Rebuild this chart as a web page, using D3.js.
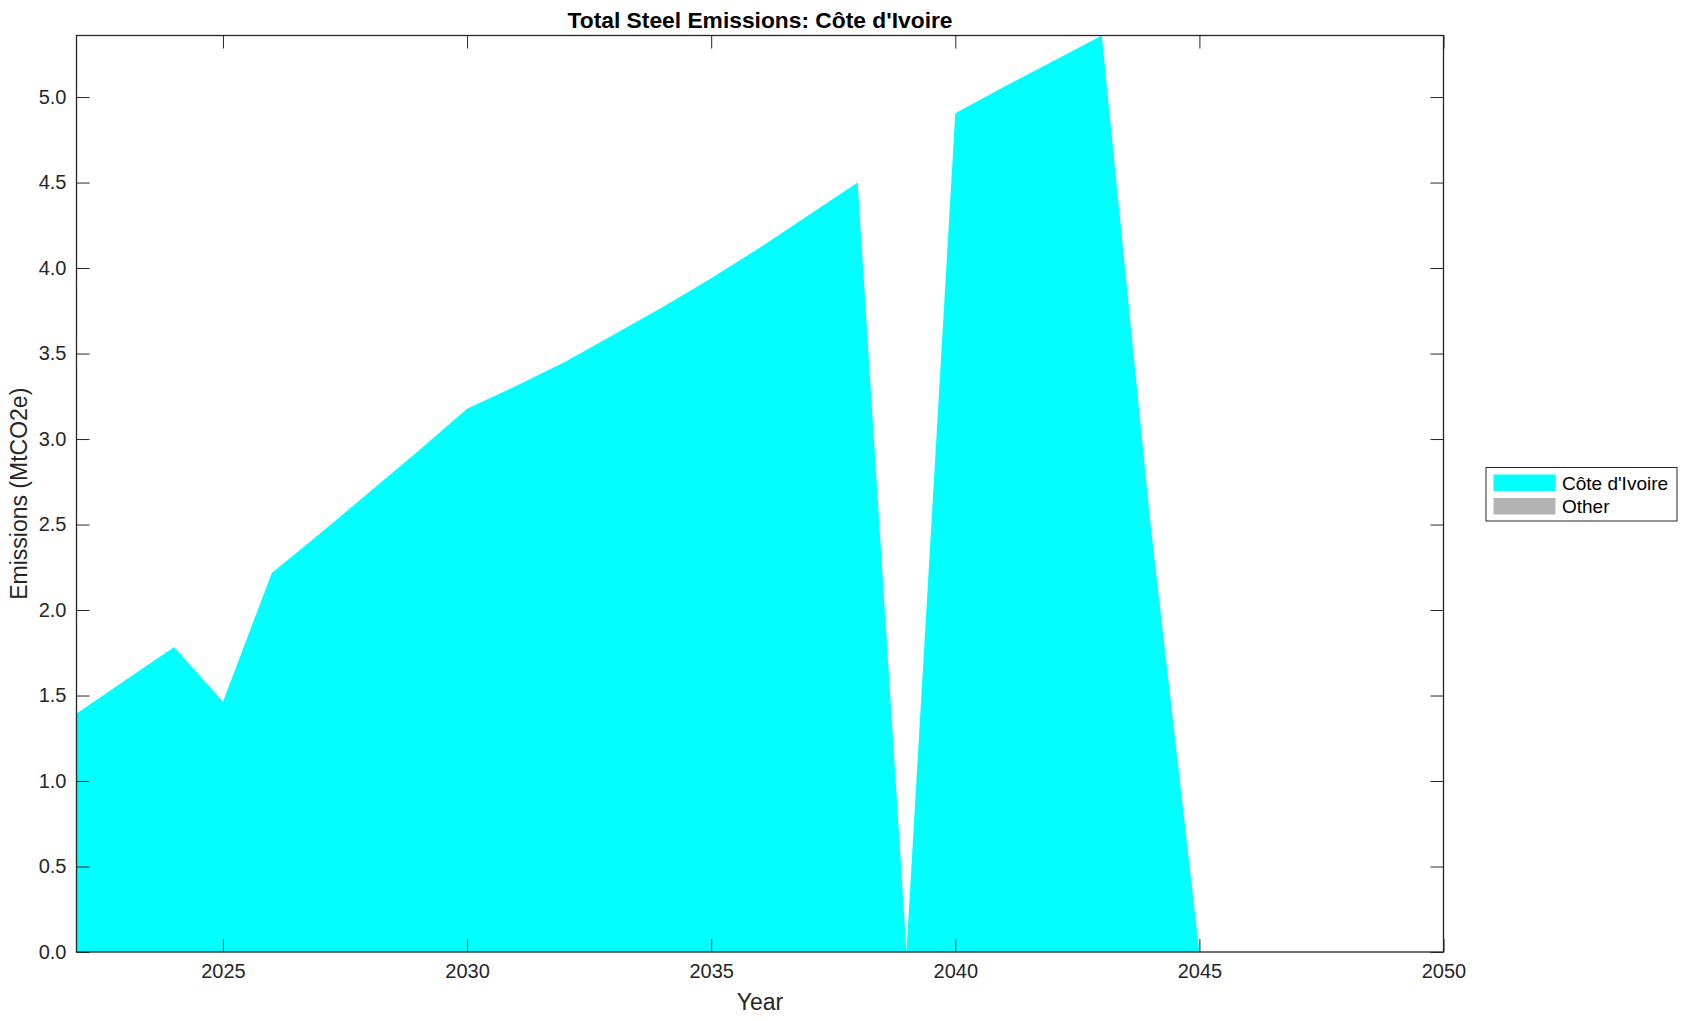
<!DOCTYPE html>
<html>
<head>
<meta charset="utf-8">
<script src="https://cdn.jsdelivr.net/npm/d3@7"></script>
<style>
  html, body { margin: 0; padding: 0; background: #fff; }
  svg { display: block; }
  text { font-family: "Liberation Sans", Arial, Helvetica, sans-serif; }
</style>
</head>
<body>
<svg id="chart" width="1688" height="1021"></svg>
<script>
// ---- data ----
const years = [2022,2023,2024,2025,2026,2027,2028,2029,2030,2031,2032,2033,2034,2035,2036,2037,2038,2039,2040,2041,2042,2043,2044,2045,2046,2047,2048,2049,2050];
const coteDIvoire = [1.395,1.59,1.784,1.463,2.217,2.45,2.69,2.93,3.177,3.31,3.45,3.61,3.77,3.94,4.12,4.31,4.50,0,4.905,5.06,5.21,5.36,2.5,0,0,0,0,0,0];
const other = [0,0,0,0,0,0,0,0,0,0,0,0,0,0,0,0,0,0,0,0,0,0,0,0,0,0,0,0,0];
const seriesNames = ["Côte d'Ivoire", "Other"];
const seriesColors = ["#00ffff", "#b3b3b3"];
const xTicks = [2025, 2030, 2035, 2040, 2045, 2050];
const yTicks = [0, 0.5, 1.0, 1.5, 2.0, 2.5, 3.0, 3.5, 4.0, 4.5, 5.0];
const titleText = "Total Steel Emissions: Côte d'Ivoire";
const xLabel = "Year";
const yLabel = "Emissions (MtCO2e)";

// ---- layout ----
const L = 76.5, R = 1443.5, T = 35.5, B = 952;
const axisColor = "#262626";
const tickLen = 13;

const svg = d3.select("#chart");

const table = years.map((y, i) => ({ year: y, c0: coteDIvoire[i], c1: other[i] }));
const stack = d3.stack().keys(["c0", "c1"]);
const stacked = stack(table);
const maxTotal = d3.max(table, d => d.c0 + d.c1);

const x = d3.scaleLinear().domain([2022, 2050]).range([L, R]);
const y = d3.scaleLinear().domain([0, maxTotal]).range([B, T]);

const area = d3.area()
  .x(d => x(d.data.year))
  .y0(d => y(d[0]))
  .y1(d => y(d[1]));

svg.append("g").selectAll("path")
  .data(stacked)
  .join("path")
  .attr("d", area)
  .attr("fill", (d, i) => seriesColors[i])
  .attr("stroke", "none");

// axes (ticks inward on all sides)
const fmt = d3.format(".1f");
const gx = svg.append("g").attr("transform", `translate(0,${B})`)
  .call(d3.axisBottom(x).tickValues(xTicks).tickFormat(d3.format("d")).tickSizeInner(-tickLen).tickSizeOuter(0).tickPadding(22));
const gxTop = svg.append("g").attr("transform", `translate(0,${T})`)
  .call(d3.axisTop(x).tickValues(xTicks).tickFormat("").tickSizeInner(-tickLen).tickSizeOuter(0));
const gy = svg.append("g").attr("transform", `translate(${L},0)`)
  .call(d3.axisLeft(y).tickValues(yTicks).tickFormat(fmt).tickSizeInner(-tickLen).tickSizeOuter(0).tickPadding(10));
const gyR = svg.append("g").attr("transform", `translate(${R},0)`)
  .call(d3.axisRight(y).tickValues(yTicks).tickFormat("").tickSizeInner(-tickLen).tickSizeOuter(0));

[gx, gxTop, gy, gyR].forEach(g => {
  g.select(".domain").remove();
  g.selectAll(".tick line").attr("stroke", axisColor).attr("stroke-width", 1);
  g.selectAll("text").attr("fill", axisColor).style("font-size", "20px")
    .style("font-family", "'Liberation Sans', Arial, sans-serif");
});
gx.selectAll("text").attr("dy", "0.2em");

// box
svg.append("rect")
  .attr("x", L).attr("y", T).attr("width", R - L).attr("height", B - T)
  .attr("fill", "none").attr("stroke", axisColor).attr("stroke-width", 1.3);

// title
svg.append("text")
  .attr("x", (L + R) / 2).attr("y", 27.5)
  .attr("text-anchor", "middle")
  .style("font-size", "22.8px").style("font-weight", "bold")
  .attr("fill", "#000")
  .text(titleText);

// x label
svg.append("text")
  .attr("x", (L + R) / 2).attr("y", 1010)
  .attr("text-anchor", "middle")
  .style("font-size", "23px")
  .attr("fill", axisColor)
  .text(xLabel);

// y label
svg.append("text")
  .attr("transform", `translate(27,${(T + B) / 2}) rotate(-90)`)
  .attr("text-anchor", "middle")
  .style("font-size", "23px")
  .attr("fill", axisColor)
  .text(yLabel);

// legend
const lg = svg.append("g");
lg.append("rect")
  .attr("x", 1486).attr("y", 467.5).attr("width", 191).attr("height", 53.5)
  .attr("fill", "#fff").attr("stroke", axisColor).attr("stroke-width", 1);
seriesNames.forEach((name, i) => {
  const yy = 474.5 + i * 23.5;
  lg.append("rect")
    .attr("x", 1493.5).attr("y", yy).attr("width", 62).attr("height", 16.5)
    .attr("fill", seriesColors[i]);
  lg.append("text")
    .attr("x", 1562).attr("y", yy + 15)
    .style("font-size", "19px")
    .attr("fill", "#000")
    .text(name);
});
</script>
</body>
</html>
